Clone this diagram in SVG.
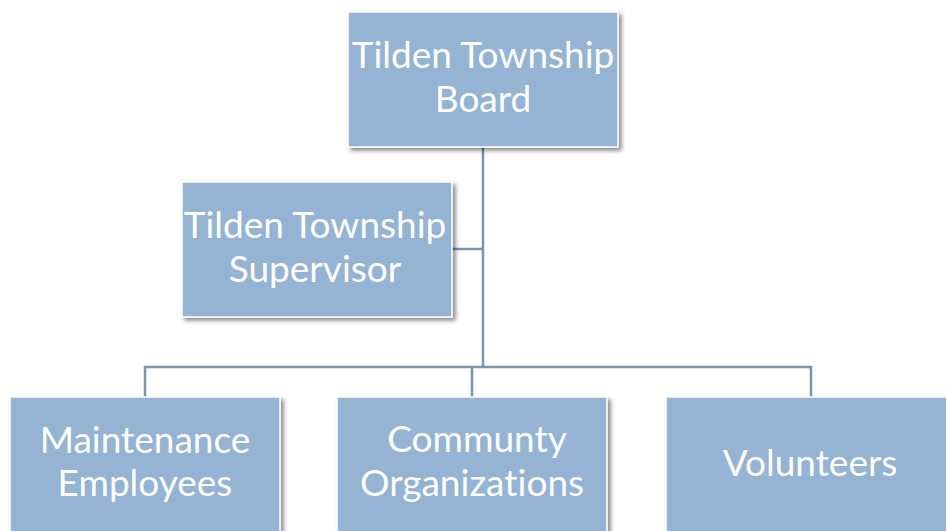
<svg xmlns="http://www.w3.org/2000/svg" width="946" height="531" viewBox="0 0 946 531">
<style>
.box{fill:#95B3D3;stroke:#FFFFFF;stroke-width:1.5;filter:url(#sh)}
.t{font-family:Lato,"Open Sans",sans-serif;font-size:37px;fill:#FFFFFF;text-anchor:middle;font-variant-ligatures:none;font-feature-settings:"liga" 0}
.c{fill:none;stroke:#7C94AE;stroke-width:2.5}
</style>
<defs>
<filter id="sh" x="-10%" y="-10%" width="125%" height="130%">
<feDropShadow dx="3" dy="3" stdDeviation="2" flood-color="#000" flood-opacity="0.45"/>
</filter>
</defs>
<rect width="946" height="531" fill="#FFFFFF"/>
<g id="connectors">
<path class="c" d="M483 147 V367"/>
<path class="c" d="M452 249 H483"/>
<path class="c" d="M145 397 V367 H811 V397"/>
<path class="c" d="M472 367 V397"/>
</g>
<g id="board">
<rect class="box" x="348" y="12" width="270" height="135"/>
<text class="t" x="483" y="68">Tilden Township</text>
<text class="t" x="483" y="112">Board</text>
</g>
<g id="supervisor">
<rect class="box" x="182" y="182" width="270" height="135"/>
<text class="t" x="315" y="238">Tilden Township</text>
<text class="t" x="315" y="282">Supervisor</text>
</g>
<g id="maintenance">
<rect class="box" x="10" y="397" width="270" height="140"/>
<text class="t" x="145" y="453">Maintenance</text>
<text class="t" x="145" y="496">Employees</text>
</g>
<g id="community">
<rect class="box" x="337" y="397" width="270" height="140"/>
<text class="t" x="477" y="452">Communty</text>
<text class="t" x="472" y="496">Organizations</text>
</g>
<g id="volunteers">
<rect class="box" x="666" y="397" width="290" height="140"/>
<text class="t" x="810" y="476">Volunteers</text>
</g>
</svg>
